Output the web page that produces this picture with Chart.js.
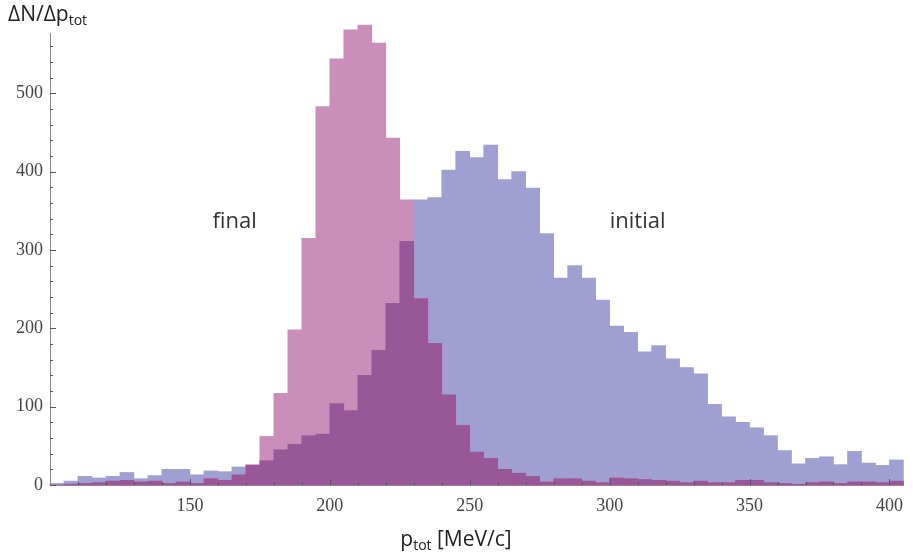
<!DOCTYPE html>
<html>
<head>
<meta charset="utf-8">
<script src="https://cdn.jsdelivr.net/npm/chart.js@4.4.1/dist/chart.umd.min.js"></script>
<style>
  html, body { margin: 0; padding: 0; background: #fff; }
  #wrap { position: relative; width: 913px; height: 560px; }
</style>
</head>
<body>
<div id="wrap"><canvas id="myChart" width="913" height="560"></canvas></div>
<script>
// bin left edges, p_tot in MeV/c (bins are 5 MeV/c wide)
var binLeft = [100,105,110,115,120,125,130,135,140,145,150,155,160,165,170,175,180,185,190,195,
               200,205,210,215,220,225,230,235,240,245,250,255,260,265,270,275,280,285,290,295,
               300,305,310,315,320,325,330,335,340,345,350,355,360,365,370,375,380,385,390,395,400];
var binWidth = 5;

// counts per bin
var initialCounts = [2,5,11,9,11,16,8,12,20,20,13,18,17,23,25,31,45,52,63,65,
                     104,95,140,172,232,311,364,367,402,426,418,434,390,400,379,321,264,280,264,236,
                     203,195,170,178,161,150,142,103,87,80,73,63,44,27,34,36,26,43,28,25,32];
var finalCounts   = [0,1,2,3,5,6,4,5,2,4,2,8,6,13,26,62,117,198,315,483,
                     544,581,587,564,443,364,238,181,115,76,42,34,20,15,11,4,8,8,5,3,
                     9,8,7,6,5,3,5,3,3,6,6,3,2,1,3,4,2,4,4,3,5];

var xTicks = [150, 200, 250, 300, 350, 400];
var yTicks = [0, 100, 200, 300, 400, 500];

// text labels placed in data coordinates
var noteText = ['final', 'initial'];
var noteX = [166, 310];
var noteY = [336, 336];

function toPoints(arr) {
  return arr.map(function (v, i) { return { x: binLeft[i] + binWidth / 2, y: v }; });
}
// where both histograms overlap the picture shows a darker shade
var overlapCounts = finalCounts.map(function (v, i) { return Math.min(v, initialCounts[i]); });

var barOpts = { grouped: false, barPercentage: 1, categoryPercentage: 1, borderWidth: 0, clip: false };

var decorations = {
  id: 'decorations',
  afterDatasetsDraw: function (chart) {
    var ctx = chart.ctx, xs = chart.scales.x, ys = chart.scales.y;
    var x0 = xs.left, y0 = ys.bottom;
    ctx.save();
    ctx.strokeStyle = '#555';
    ctx.lineWidth = 1;
    ctx.beginPath();
    // y ticks (inward), minor every 20
    for (var v = 0; v <= ys.max; v += 20) {
      var y = Math.round(ys.getPixelForValue(v)) + 0.5;
      var len = (v % 100 === 0) ? 6 : 3;
      ctx.moveTo(x0, y); ctx.lineTo(x0 + len, y);
    }
    // x ticks (inward), minor every 10
    for (var u = 110; u <= xs.max; u += 10) {
      var x = Math.round(xs.getPixelForValue(u)) + 0.5;
      var l2 = (u % 50 === 0) ? 6 : 3;
      ctx.moveTo(x, y0); ctx.lineTo(x, y0 - l2);
    }
    ctx.stroke();

    // notes
    ctx.fillStyle = '#333';
    ctx.font = '22px "Open Sans"';
    ctx.textAlign = 'center';
    ctx.textBaseline = 'middle';
    for (var i = 0; i < noteText.length; i++) {
      ctx.fillText(noteText[i], xs.getPixelForValue(noteX[i]), ys.getPixelForValue(noteY[i]));
    }

    // axis titles with subscripts
    ctx.textAlign = 'left';
    ctx.textBaseline = 'alphabetic';
    ctx.fillStyle = '#222';
    var big = '21px "Open Sans"', small = '14px "Open Sans"';
    // y title
    var tx = 8;
    ctx.font = big; ctx.fillText('\u0394N/\u0394p', tx, 21);
    tx += ctx.measureText('\u0394N/\u0394p').width;
    ctx.font = small; ctx.fillText('tot', tx, 25);
    // x title
    ctx.font = big;
    var w1 = ctx.measureText('p').width, w3 = ctx.measureText(' [MeV/c]').width;
    ctx.font = small;
    var w2 = ctx.measureText('tot').width;
    var sx = 456 - (w1 + w2 + w3) / 2;
    ctx.font = big; ctx.fillText('p', sx, 546);
    ctx.font = small; ctx.fillText('tot', sx + w1, 550);
    ctx.font = big; ctx.fillText(' [MeV/c]', sx + w1 + w2, 546);
    ctx.restore();
  }
};

var ctx = document.getElementById('myChart').getContext('2d');
var myChart = new Chart(ctx, {
  type: 'bar',
  data: {
    datasets: [
      Object.assign({ label: 'overlap', data: toPoints(overlapCounts), backgroundColor: '#985898' }, barOpts),
      Object.assign({ label: 'final', data: toPoints(finalCounts), backgroundColor: '#c98fba' }, barOpts),
      Object.assign({ label: 'initial', data: toPoints(initialCounts), backgroundColor: '#9f9fd2' }, barOpts)
    ]
  },
  options: {
    responsive: false,
    animation: false,
    layout: { padding: { left: 0, top: 33, right: 3, bottom: 0 } },
    plugins: { legend: { display: false }, tooltip: { enabled: false } },
    scales: {
      x: {
        type: 'linear',
        min: 100,
        max: 405,
        offset: false,
        grid: { display: false, drawTicks: false },
        border: { color: '#888' },
        afterBuildTicks: function (s) { s.ticks = xTicks.map(function (v) { return { value: v }; }); },
        afterFit: function (s) { s.height = 75; },
        ticks: { color: '#444', padding: 10, maxRotation: 0, font: { family: 'Liberation Serif', size: 18 } }
      },
      y: {
        min: 0,
        max: 577,
        grid: { display: false, drawTicks: false },
        border: { color: '#888' },
        afterBuildTicks: function (s) { s.ticks = yTicks.map(function (v) { return { value: v }; }); },
        afterFit: function (s) { s.width = 50; },
        ticks: { color: '#444', padding: 7, font: { family: 'Liberation Serif', size: 18 } }
      }
    }
  },
  plugins: [decorations]
});
</script>
</body>
</html>
